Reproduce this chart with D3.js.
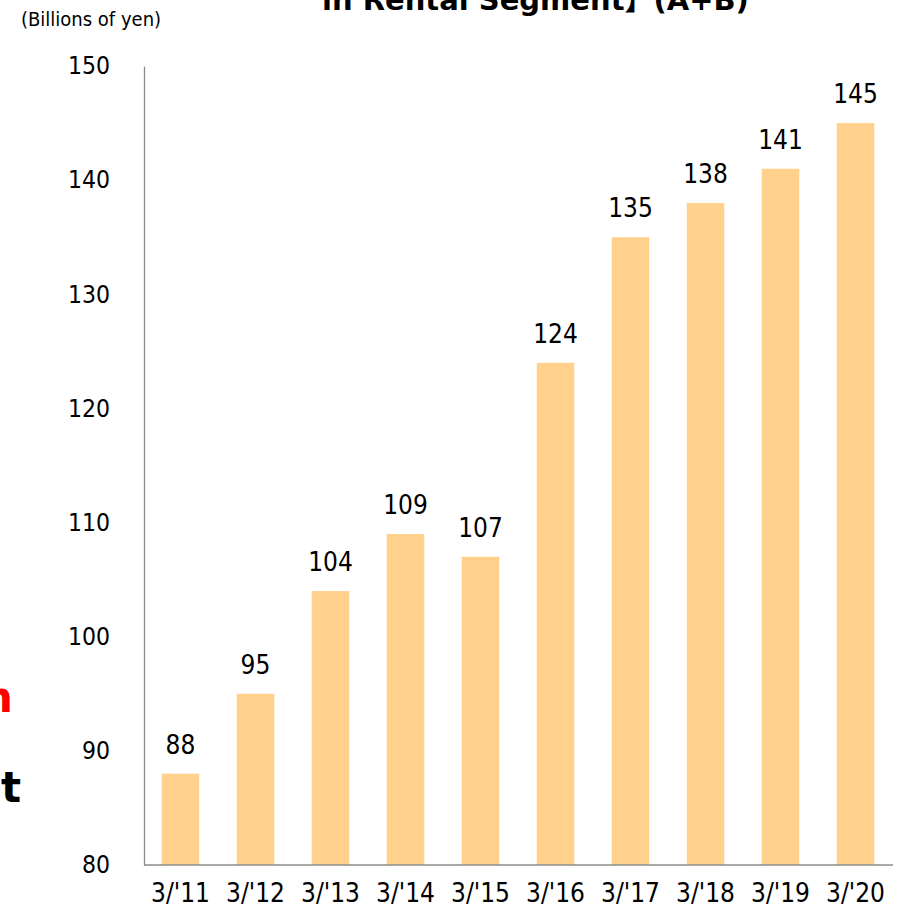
<!DOCTYPE html>
<html>
<head>
<meta charset="utf-8">
<script src="https://cdn.jsdelivr.net/npm/d3@7"></script>
<style>
  html, body { margin: 0; padding: 0; background: #fff; overflow: hidden; }
  svg { display: block; }
</style>
</head>
<body>
<svg id="chart" width="902" height="910"></svg>
<script>
// Fiscal year ends (March) and rental segment figures, billions of yen
const categories = ["3/'11", "3/'12", "3/'13", "3/'14", "3/'15", "3/'16", "3/'17", "3/'18", "3/'19", "3/'20"];
const values = [88, 95, 104, 109, 107, 124, 135, 138, 141, 145];
const yTicks = [80, 90, 100, 110, 120, 130, 140, 150];

const svg = d3.select("#chart");
const numFont = "'DejaVu Sans Condensed', 'DejaVu Sans', sans-serif";

const x = d3.scaleBand().domain(categories).range([143, 893]).paddingInner(0.5).paddingOuter(0.25);
const y = d3.scaleLinear().domain([80, 150]).range([865, 66]);

// Headline (continues above the visible area)
svg.append("text")
  .attr("x", 322).attr("y", 10)
  .attr("font-family", "'DejaVu Sans', 'Noto Sans CJK JP', sans-serif")
  .attr("font-weight", "bold").attr("font-size", 29)
  .attr("fill", "#000")
  .text("in Rental Segment】(A+B)");

// Side captions running off the left edge
svg.append("text")
  .attr("x", 13).attr("y", 712).attr("text-anchor", "end")
  .attr("font-family", "'DejaVu Sans', sans-serif").attr("font-weight", "bold")
  .attr("font-size", 42).attr("fill", "#ff0000").text("n");
svg.append("text")
  .attr("x", 21).attr("y", 802).attr("text-anchor", "end")
  .attr("font-family", "'DejaVu Sans', sans-serif").attr("font-weight", "bold")
  .attr("font-size", 42).attr("fill", "#000").text("nt");

// Unit label
svg.append("text")
  .attr("x", 21).attr("y", 26)
  .attr("font-family", "'DejaVu Sans Condensed', sans-serif")
  .attr("font-size", 20).attr("fill", "#000")
  .text("(Billions of yen)");

// Bars
svg.append("g").selectAll("rect").data(values).join("rect")
  .attr("x", (d, i) => x(categories[i]))
  .attr("width", x.bandwidth())
  .attr("y", d => y(d))
  .attr("height", d => y(80) - y(d))
  .attr("fill", "#ffd18d");

// Value labels
svg.append("g").selectAll("text").data(values).join("text")
  .attr("x", (d, i) => x(categories[i]) + x.bandwidth() / 2)
  .attr("y", d => y(d) - 20)
  .attr("text-anchor", "middle")
  .attr("font-family", numFont).attr("font-size", 26)
  .attr("fill", "#000")
  .text(d => d);

// Y axis
const yAxis = svg.append("g").attr("transform", "translate(144,0)")
  .call(d3.axisLeft(y).tickValues(yTicks).tickSize(0).tickPadding(34));
yAxis.select(".domain").attr("stroke", "#8c8c8c").attr("stroke-width", 1.3);
yAxis.selectAll("text").attr("font-family", numFont).attr("font-size", 24.5).attr("fill", "#000");

// X axis
const xAxis = svg.append("g").attr("transform", `translate(0,${y(80)})`)
  .call(d3.axisBottom(x).tickSize(0).tickPadding(19));
xAxis.select(".domain").attr("stroke", "#8c8c8c").attr("stroke-width", 1.3)
  .attr("d", "M144,0H893");
xAxis.selectAll("text").attr("font-family", numFont).attr("font-size", 26).attr("fill", "#000");
</script>
</body>
</html>
